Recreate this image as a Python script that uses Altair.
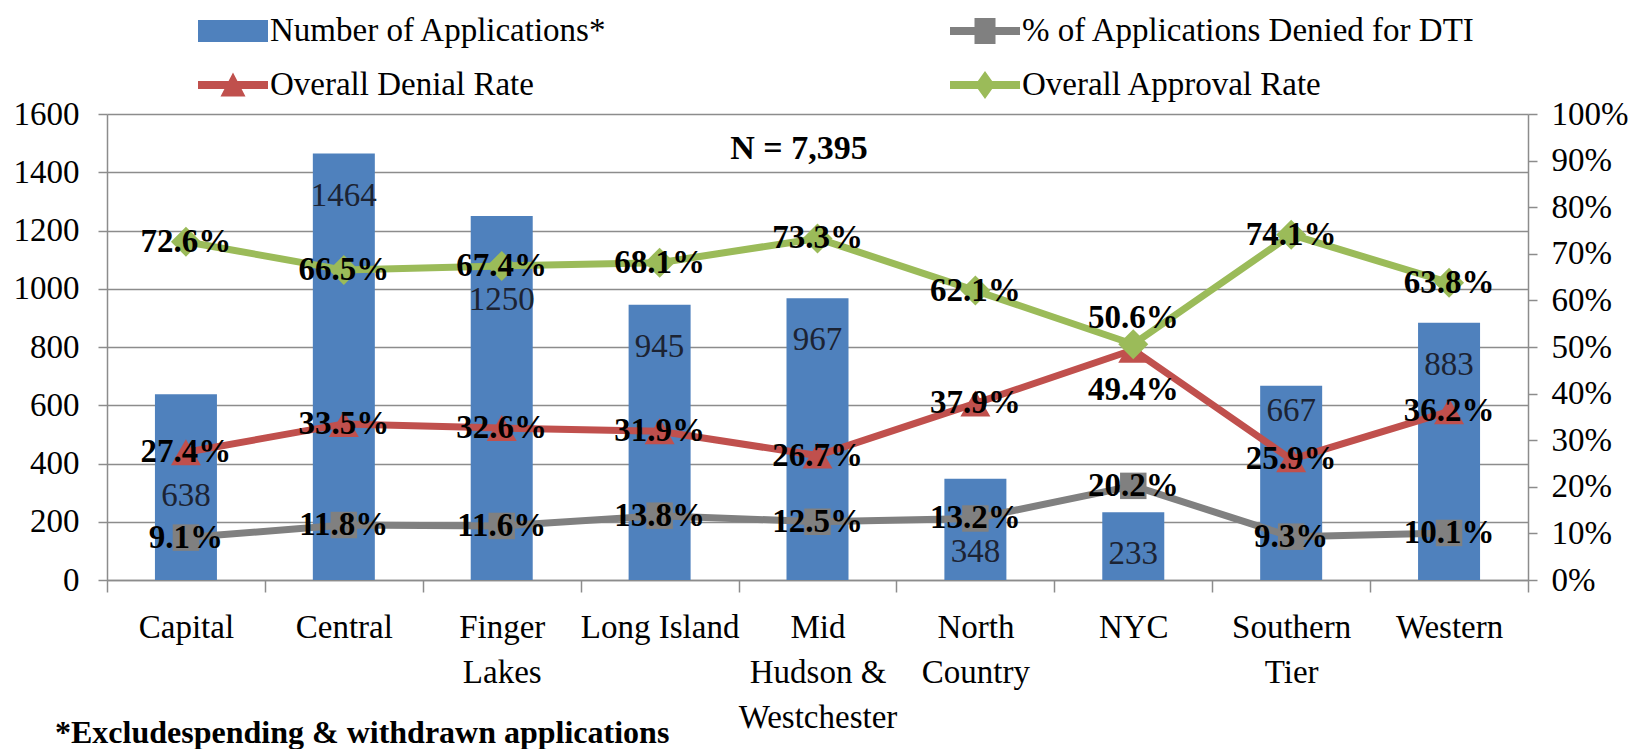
import altair as alt
import pandas as pd

# ---------------- data ----------------
regions = ["Capital", "Central", "Finger Lakes", "Long Island", "Mid Hudson & Westchester",
           "North Country", "NYC", "Southern Tier", "Western"]
region_lines = [["Capital"], ["Central"], ["Finger", "Lakes"], ["Long Island"],
                ["Mid", "Hudson &", "Westchester"], ["North", "Country"], ["NYC"],
                ["Southern", "Tier"], ["Western"]]
applications = [638, 1464, 1250, 945, 967, 348, 233, 667, 883]
dti_pct = [9.1, 11.8, 11.6, 13.8, 12.5, 13.2, 20.2, 9.3, 10.1]
denial_pct = [27.4, 33.5, 32.6, 31.9, 26.7, 37.9, 49.4, 25.9, 36.2]
approval_pct = [72.6, 66.5, 67.4, 68.1, 73.3, 62.1, 50.6, 74.1, 63.8]

series_names = ["Number of Applications*", "% of Applications Denied for DTI",
                "Overall Denial Rate", "Overall Approval Rate"]
total_label = "N = 7,395"
footnote = "*Excludespending & withdrawn applications"

# ---------------- styles ----------------
FONT = "Liberation Serif"
FS = 33
BLUE, GREY, RED, GREEN = "#4F81BD", "#808080", "#C0504D", "#9BBB59"
series_colors = [BLUE, GREY, RED, GREEN]
AXC = "#8C8C8C"

apps_df = pd.DataFrame({"region": regions, "apps": applications})
rows = []
for name, vals in zip(series_names[1:], [dti_pct, denial_pct, approval_pct]):
    for r, v in zip(regions, vals):
        rows.append({"region": r, "series": name, "value": v / 100.0})
long_df = pd.DataFrame(rows)

parts = []
for r, lines in zip(regions, region_lines):
    if len(lines) > 1:
        arr = "[" + ",".join("'" + l + "'" for l in lines) + "]"
        parts.append(f"datum.value == '{r}' ? {arr} : ")
label_expr = "".join(parts) + "datum.label"

x_enc = alt.X("region:N",
              scale=alt.Scale(domain=regions, paddingInner=0, paddingOuter=0),
              axis=alt.Axis(title=None, labelAngle=0, labelExpr=label_expr, labelFont=FONT,
                            labelFontSize=FS, labelColor="black", labelLineHeight=45,
                            labelBaseline="top", labelPadding=19, tickBand="extent",
                            tickSize=12, tickColor=AXC, tickWidth=1.5, domainColor=AXC,
                            domainWidth=1.5, grid=False, labelLimit=400))

y_apps = alt.Y("apps:Q", scale=alt.Scale(domain=[0, 1600], nice=False),
               axis=alt.Axis(orient="left", title=None, values=list(range(0, 1601, 200)),
                             format="d", grid=True, gridColor=AXC, gridWidth=1.5,
                             labelFont=FONT, labelFontSize=FS, labelColor="black",
                             labelPadding=19, tickSize=9, tickColor=AXC, tickWidth=1.5,
                             domainColor=AXC, domainWidth=1.5))

y_pct = alt.Y("value:Q", scale=alt.Scale(domain=[0, 1], nice=False),
              axis=alt.Axis(orient="right", title=None, values=[i / 10 for i in range(11)],
                            format=".0%", grid=False, labelFont=FONT, labelFontSize=FS,
                            labelColor="black", labelPadding=14, tickSize=9, tickColor=AXC,
                            tickWidth=1.5, domainColor=AXC, domainWidth=1.5))

color_scale = alt.Scale(domain=series_names, range=series_colors)

# ---------------- bar group ----------------
bars = alt.Chart(apps_df).mark_bar(size=62, color=BLUE).encode(x=x_enc, y=y_apps)


def bar_labels(filter_expr, dy):
    return alt.Chart(apps_df).transform_filter(filter_expr).mark_text(
        font=FONT, fontSize=FS, color="#1C2333", baseline="middle", align="center", dy=dy
    ).encode(x=x_enc, y=y_apps, text=alt.Text("apps:Q"))


special_bar = {"Capital": 102, "Finger Lakes": 84, "North Country": 73, "Southern Tier": 25}
bar_label_layers = [bar_labels(" && ".join(f"datum.region != '{k}'" for k in special_bar), 42)]
for k, d in special_bar.items():
    bar_label_layers.append(bar_labels(f"datum.region == '{k}'", d))

n_text = alt.Chart(pd.DataFrame({"t": [total_label]})).mark_text(
    font=FONT, fontSize=34, fontWeight="bold", color="black", align="center", baseline="middle"
).encode(x=alt.value(692), y=alt.value(35), text="t:N")

foot_text = alt.Chart(pd.DataFrame({"t": [footnote]})).mark_text(
    font=FONT, fontSize=32, fontWeight="bold", color="black", align="left", baseline="middle"
).encode(x=alt.value(-52), y=alt.value(619), text="t:N")

bar_group = alt.layer(bars, *bar_label_layers, n_text, foot_text)

# ---------------- percentage group ----------------
marker_specs = [(series_names[1], "square", 700, GREY),
                (series_names[2], "triangle-up", 900, RED),
                (series_names[3], "diamond", 900, GREEN)]
line_layers = []
marker_layers = []
for name, shp, sz, col in marker_specs:
    base = alt.Chart(long_df).transform_filter(alt.datum.series == name)
    line_layers.append(base.mark_line(strokeWidth=7, color=col).encode(x=x_enc, y=y_pct))
    marker_layers.append(base.mark_point(shape=shp, size=sz, filled=True, opacity=1,
                                         color=col).encode(x=x_enc, y=y_pct))


def pct_labels(filter_expr, dy):
    return alt.Chart(long_df).transform_filter(filter_expr).mark_text(
        font=FONT, fontSize=FS, fontWeight="bold", color="black", baseline="middle",
        align="center", dy=dy
    ).encode(x=x_enc, y=y_pct, text=alt.Text("value:Q", format=".1%"))


special_pct = [("datum.region == 'NYC' && datum.series == 'Overall Approval Rate'", -26),
               ("datum.region == 'NYC' && datum.series == 'Overall Denial Rate'", 40)]
pct_label_layers = [pct_labels("!(" + ") && !(".join(e for e, _ in special_pct) + ")", 0)]
for e, d in special_pct:
    pct_label_layers.append(pct_labels(e, d))

legend_paths = [
    "M-1.4,-0.44H1.4V0.44H-1.4Z",
    "M-1.4,-0.16H1.4V0.16H-1.4Z M-0.42,-0.52H0.42V0.52H-0.42Z",
    "M-1.4,-0.16H1.4V0.16H-1.4Z M-0.5,0.46L0,-0.5L0.5,0.46Z",
    "M-1.4,-0.16H1.4V0.16H-1.4Z M0,-0.56L0.4,0L0,0.56L-0.4,0Z",
]
leg = alt.Legend(title=None, orient="none", legendX=101, legendY=-108, columns=2,
                 direction="horizontal", columnPadding=342, rowPadding=12, padding=0,
                 symbolSize=2500, symbolStrokeWidth=0, labelFont=FONT, labelFontSize=FS,
                 labelColor="black", labelOffset=12, labelLimit=700)
legend_layer = alt.Chart(long_df).transform_filter("false").mark_point(
    filled=True, opacity=1).encode(
    color=alt.Color("series:N", scale=color_scale, legend=leg),
    shape=alt.Shape("series:N", scale=alt.Scale(domain=series_names, range=legend_paths),
                    legend=leg))

pct_group = alt.layer(*line_layers, *marker_layers, *pct_label_layers, legend_layer)

chart = alt.layer(bar_group, pct_group).resolve_scale(y="independent").properties(
    width=1421, height=466,
    autosize=alt.AutoSizeParams(type="none"),
    padding={"left": 99, "top": 106, "right": 101, "bottom": 169},
    background="white",
).configure_view(stroke=None).configure_axis(
    labelFont=FONT, labelFontSize=FS
).configure_legend(labelFont=FONT, labelFontSize=FS).configure_text(font=FONT)

chart.save("out.html", embed_options={"renderer": "svg", "actions": False})
